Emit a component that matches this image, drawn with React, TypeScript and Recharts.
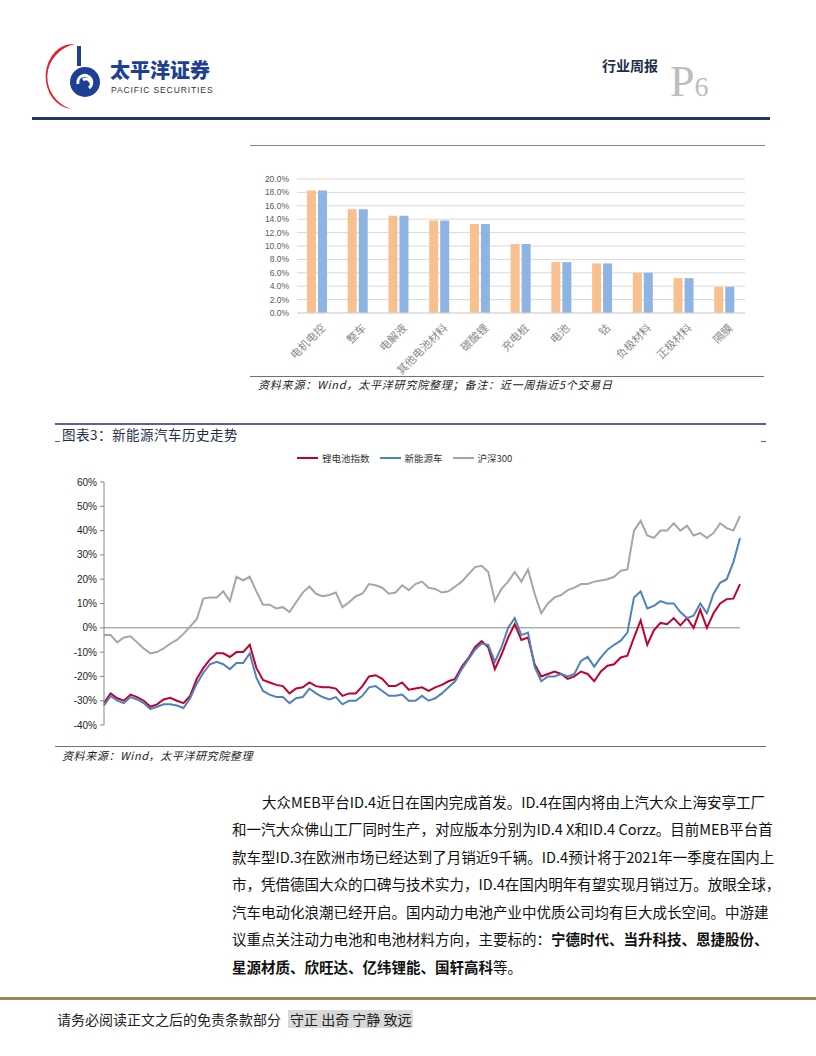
import React from "react";
import {
  BarChart,
  Bar,
  LineChart,
  Line,
  XAxis,
  YAxis,
  CartesianGrid,
  ReferenceLine,
} from "recharts";

// ---- bar chart data (weekly change by sub-sector) ----
const barCategories = [
  "电机电控",
  "整车",
  "电解液",
  "其他电池材料",
  "碳酸锂",
  "充电桩",
  "电池",
  "钴",
  "负极材料",
  "正极材料",
  "隔膜",
];
const barSeriesA = [18.3, 15.5, 14.5, 13.8, 13.3, 10.3, 7.6, 7.4, 6.0, 5.2, 3.9];
const barSeriesB = [18.3, 15.5, 14.5, 13.8, 13.3, 10.3, 7.6, 7.4, 6.0, 5.2, 3.9];
const barTicks = [0, 2, 4, 6, 8, 10, 12, 14, 16, 18, 20];

// ---- line chart data (weekly samples, 2018-11 .. 2020-11) ----
const monthLabels = [
  "2018-11",
  "2019-01",
  "2019-03",
  "2019-05",
  "2019-07",
  "2019-09",
  "2019-11",
  "2020-01",
  "2020-03",
  "2020-05",
  "2020-07",
  "2020-09",
  "2020-11",
];
const lithiumIndex = [
  -31, -27, -29, -30,
  -27.5, -28.5, -30, -32.5,
  -31.5, -29.5, -28.8, -30,
  -31, -28, -21, -16.5,
  -13, -10.5, -10.5, -12,
  -10, -10, -7, -16.5,
  -21.5, -22.5, -23.5, -24,
  -27, -25, -24.5, -22.5,
  -24, -24.5, -24.5, -25,
  -28, -27, -27, -24,
  -20, -19.5, -21, -24,
  -24, -22.5, -25.5, -25,
  -24.5, -26, -24.5, -23.5,
  -22, -21, -16, -12.5,
  -8, -5.5, -8, -17,
  -11, -4, 1.5, -5,
  -4, -15, -20, -19,
  -18, -19, -21, -20,
  -18, -19, -22, -18,
  -15.6, -15, -12.2, -11.5,
  -4, 3, -7, -1,
  2, 1.5, 4, 1,
  4, 0, 7.5, 0,
  6, 10, 11.8, 12,
  18,
];
const nevIndex = [
  -32, -28, -30, -31,
  -28.5, -29.5, -31, -33.5,
  -32.5, -31.5, -31.5, -32,
  -33, -29, -23, -18.5,
  -15, -14, -15, -17,
  -14.5, -14.5, -10.5, -20.5,
  -26, -27.5, -28.5, -28.5,
  -31, -29, -28.5, -25,
  -27, -28.5, -29.5, -28.5,
  -31.5, -30, -30, -28,
  -24.5, -24, -26, -28,
  -28, -27.5, -30, -30,
  -28, -30, -29, -27,
  -24.5, -22, -17, -13,
  -9, -6.5, -7, -14,
  -8, 0, 4, -3,
  -2, -16, -22, -20,
  -20, -19, -20, -19,
  -13.6, -12, -16, -12.2,
  -9, -7, -5.3, -2,
  12.5, 15, 8, 9,
  11, 10, 10, 6.5,
  4, 5, 10, 6,
  14, 18.5, 20, 27,
  37,
];
const hs300Index = [
  -3, -3, -6, -4,
  -3.5, -6, -8.5, -10.5,
  -10, -8.5, -6.5, -5,
  -2.5, 0.5, 3.5, 12,
  12.5, 12.5, 15, 11,
  21, 19.5, 21, 15,
  9.5, 9.5, 8, 8.5,
  6.5, 10.5, 14.5, 17,
  14, 13, 13.5, 14.5,
  8.5, 10.5, 13, 14,
  18, 17.5, 16.5, 14,
  14.5, 17.5, 15.5, 18,
  19, 16.5, 16, 14.5,
  15, 17, 19, 22,
  25, 25.5, 23, 11,
  16, 19, 23, 19,
  24, 14, 6, 10,
  12.5, 13.5, 15.5, 16.5,
  18, 18, 19, 19.5,
  20, 21, 23.5, 24,
  40, 44, 38, 37,
  40, 40, 43, 40,
  42, 38, 39, 37,
  39, 43, 41, 40,
  46,
];
const lineYTicks = [-40, -30, -20, -10, 0, 10, 20, 30, 40, 50, 60];

const barData = barCategories.map((name, i) => ({
  name,
  a: barSeriesA[i],
  b: barSeriesB[i],
}));

const lineData = lithiumIndex.map((v, i) => ({
  t: i,
  li: v,
  nev: nevIndex[i],
  hs: hs300Index[i],
}));
const weeksPerLabel = (lineData.length - 1) / (monthLabels.length - 1);
const lineXTicks = monthLabels.map((_, i) => i * weeksPerLabel);

const CJK = '"Noto Sans CJK SC", "Noto Sans", sans-serif';

const LINE_TOP = 12;
const LINE_PLOT_H = 243;
const ZERO_Y = LINE_TOP + (LINE_PLOT_H * 60) / 100;

function DateTick(props: any) {
  const { x, payload } = props;
  const idx = Math.round(payload.value / weeksPerLabel);
  return (
    <g>
      <line x1={x} x2={x} y1={ZERO_Y} y2={ZERO_Y + 3} stroke="#868686" />
      <text
        x={x}
        y={ZERO_Y + 12}
        textAnchor="middle"
        fontSize={8.5}
        fontFamily="Arial, Liberation Sans"
        fill="#222"
      >
        {monthLabels[idx]}
      </text>
    </g>
  );
}

function SlantTick(props: any) {
  const { x, y, payload } = props;
  return (
    <g transform={`translate(${x + 3},${y + 2})`}>
      <text
        x={0}
        y={0}
        dy={8}
        textAnchor="end"
        transform="rotate(-45)"
        fontSize={11}
        fontFamily={CJK}
        fill="#8a8a8a"
      >
        {payload.value}
      </text>
    </g>
  );
}

function Logo() {
  return (
    <div style={{ position: "absolute", left: 37, top: 42, width: 176, height: 68 }}>
      <svg width={70} height={68} style={{ position: "absolute", left: 0, top: 0 }}>
        <path d="M38,2 A36,34 0 0 0 34,67 A26,31 0 0 1 38,2 Z" fill="#e8202a" />
        <path d="M40,4 L44,4 L44,24 L40,24 Z" fill="#1f3f94" />
        <circle cx={48} cy={40} r={15} fill="#1f3f94" />
        <path
          d="M41,42 A7,7 0 1 1 52,46 A4,4 0 1 0 46,38"
          fill="none"
          stroke="#fff"
          strokeWidth={3}
        />
      </svg>
      <div
        style={{
          position: "absolute",
          left: 73,
          top: 17,
          fontFamily: CJK,
          fontWeight: 900,
          fontSize: 20,
          lineHeight: "22px",
          color: "#1f3f94",
          whiteSpace: "nowrap",
        }}
      >
        太平洋证券
      </div>
      <div
        style={{
          position: "absolute",
          left: 74,
          top: 43,
          fontFamily: "Arial, Liberation Sans",
          fontSize: 8.5,
          lineHeight: "10px",
          color: "#333",
          letterSpacing: 0.9,
          whiteSpace: "nowrap",
        }}
      >
        PACIFIC SECURITIES
      </div>
    </div>
  );
}

const bodyLines = [
  "大众MEB平台ID.4近日在国内完成首发。ID.4在国内将由上汽大众上海安亭工厂",
  "和一汽大众佛山工厂同时生产，对应版本分别为ID.4 X和ID.4 Corzz。目前MEB平台首",
  "款车型ID.3在欧洲市场已经达到了月销近9千辆。ID.4预计将于2021年一季度在国内上",
  "市，凭借德国大众的口碑与技术实力，ID.4在国内明年有望实现月销过万。放眼全球，",
  "汽车电动化浪潮已经开启。国内动力电池产业中优质公司均有巨大成长空间。中游建",
];
const bodyLineY = [792, 819, 847, 874, 902, 929, 957];

export default function App() {
  const abs = (l: number, t: number, extra: React.CSSProperties = {}): React.CSSProperties => ({
    position: "absolute",
    left: l,
    top: t,
    ...extra,
  });
  const bodyStyle: React.CSSProperties = {
    fontSize: 14.5,
    lineHeight: "20px",
    color: "#111",
    textAlign: "justify",
    textAlignLast: "justify",
    whiteSpace: "nowrap",
  };
  return (
    <div
      style={{
        position: "absolute",
        left: 0,
        top: 0,
        width: 816,
        height: 1056,
        background: "#fff",
        overflow: "hidden",
        fontFamily: CJK,
      }}
    >
      <Logo />
      <div
        style={abs(602, 56, {
          fontSize: 14,
          fontWeight: 700,
          color: "#1f2d4f",
          lineHeight: "18px",
          whiteSpace: "nowrap",
        })}
      >
        行业周报
      </div>
      <div
        style={abs(670, 62, {
          fontFamily: '"Liberation Serif", "DejaVu Serif", serif',
          color: "#bdbdbd",
          whiteSpace: "nowrap",
          lineHeight: "40px",
        })}
      >
        <span style={{ fontSize: 44 }}>P</span>
        <span style={{ fontSize: 28 }}>6</span>
      </div>
      <div style={abs(32, 117, { width: 738, height: 3, background: "#1f3864" })} />

      {/* bar chart */}
      <div style={abs(250, 145, { width: 515, height: 1, background: "#7f7fa8" })} />
      <div style={abs(250, 165)}>
        <BarChart
          width={515}
          height={220}
          data={barData}
          margin={{ top: 14, right: 20, left: 0, bottom: 0 }}
          barCategoryGap={10}
          barGap={2}
        >
          <CartesianGrid vertical={false} stroke="#d9d9d9" />
          <XAxis
            dataKey="name"
            interval={0}
            height={72}
            tick={<SlantTick />}
            tickLine={false}
            axisLine={{ stroke: "#d9d9d9" }}
          />
          <YAxis
            width={47}
            domain={[0, 20]}
            ticks={barTicks}
            interval={0}
            tickFormatter={(v: number) => v.toFixed(1) + "%"}
            axisLine={false}
            tickLine={false}
            tick={{ fontSize: 8.5, fill: "#595959", fontFamily: "Arial, Liberation Sans" }}
          />
          <Bar dataKey="a" fill="#f9c08f" isAnimationActive={false} />
          <Bar dataKey="b" fill="#8db4e2" isAnimationActive={false} />
        </BarChart>
      </div>
      <div style={abs(250, 376, { width: 514, height: 1, background: "#6b6b9b" })} />
      <div
        style={abs(258, 377, {
          fontSize: 11,
          fontStyle: "italic",
          lineHeight: "14px",
          letterSpacing: 0.8,
          color: "#222",
          whiteSpace: "nowrap",
        })}
      >
        资料来源：Wind，太平洋研究院整理；备注：近一周指近5个交易日
      </div>

      {/* line chart */}
      <div style={abs(55, 423, { width: 711, height: 2, background: "#5f5f9f" })} />
      <div
        style={abs(62, 426, {
          fontSize: 13.5,
          lineHeight: "17px",
          color: "#1f2d4f",
          letterSpacing: 0.5,
          whiteSpace: "nowrap",
        })}
      >
        图表3：新能源汽车历史走势
      </div>
      <div style={abs(55, 441, { width: 5, height: 1, background: "#5f5f9f" })} />
      <div style={abs(761, 441, { width: 5, height: 1, background: "#5f5f9f" })} />

      <div
        style={abs(297, 452, {
          display: "flex",
          alignItems: "center",
          fontSize: 9.5,
          lineHeight: "12px",
          color: "#333",
          whiteSpace: "nowrap",
        })}
      >
        <span style={{ display: "inline-block", width: 21, height: 2.5, background: "#c0002f", marginRight: 4 }} />
        <span style={{ marginRight: 10 }}>锂电池指数</span>
        <span style={{ display: "inline-block", width: 21, height: 2.5, background: "#4f81bd", marginRight: 4 }} />
        <span style={{ marginRight: 10 }}>新能源车</span>
        <span style={{ display: "inline-block", width: 21, height: 2.5, background: "#a6a6a6", marginRight: 4 }} />
        <span>沪深300</span>
      </div>

      <div style={abs(50, 470)}>
        <LineChart
          width={700}
          height={270}
          data={lineData}
          margin={{ top: LINE_TOP, right: 10, left: 0, bottom: 270 - LINE_TOP - LINE_PLOT_H }}
        >
          <XAxis
            type="number"
            dataKey="t"
            domain={[0, lineData.length - 1]}
            ticks={lineXTicks}
            interval={0}
            height={0}
            axisLine={false}
            tickLine={false}
            tick={<DateTick />}
          />
          <YAxis
            width={54}
            domain={[-40, 60]}
            ticks={lineYTicks}
            interval={0}
            tickFormatter={(v: number) => v + "%"}
            axisLine={{ stroke: "#868686" }}
            tickLine={{ stroke: "#868686" }}
            tickSize={4}
            tickMargin={3}
            tick={{ fontSize: 10, fill: "#222", fontFamily: "Arial, Liberation Sans" }}
          />
          <ReferenceLine y={0} stroke="#868686" />
          <Line
            dataKey="li"
            stroke="#c0002f"
            strokeWidth={2}
            dot={false}
            isAnimationActive={false}
          />
          <Line
            dataKey="nev"
            stroke="#4f81bd"
            strokeWidth={2}
            dot={false}
            isAnimationActive={false}
          />
          <Line
            dataKey="hs"
            stroke="#a6a6a6"
            strokeWidth={2}
            dot={false}
            isAnimationActive={false}
          />
        </LineChart>
      </div>
      <div style={abs(55, 746, { width: 711, height: 1, background: "#6b6b9b" })} />
      <div
        style={abs(62, 748, {
          fontSize: 11,
          fontStyle: "italic",
          lineHeight: "14px",
          letterSpacing: 0.6,
          color: "#222",
          whiteSpace: "nowrap",
        })}
      >
        资料来源：Wind，太平洋研究院整理
      </div>

      {/* body text */}
      {bodyLines.map((line, i) => (
        <div
          key={i}
          style={abs(i === 0 ? 262 : 232, bodyLineY[i], {
            ...bodyStyle,
            width: i === 0 ? 498 : 528,
          })}
        >
          {line}
        </div>
      ))}
      <div style={abs(232, bodyLineY[5], { ...bodyStyle, width: 528 })}>
        议重点关注动力电池和电池材料方向，主要标的：<b>宁德时代、当升科技、恩捷股份、</b>
      </div>
      <div
        style={abs(232, bodyLineY[6], {
          fontSize: 14.5,
          lineHeight: "20px",
          color: "#111",
          whiteSpace: "nowrap",
        })}
      >
        <b>星源材质、欣旺达、亿纬锂能、国轩高科</b>等。
      </div>

      {/* footer */}
      <div style={abs(0, 997, { width: 816, height: 3, background: "#948a54" })} />
      <div
        style={abs(57, 1010, {
          fontSize: 14,
          lineHeight: "18px",
          color: "#222",
          whiteSpace: "nowrap",
        })}
      >
        请务必阅读正文之后的免责条款部分
      </div>
      <div
        style={abs(288, 1010, {
          fontSize: 14,
          lineHeight: "18px",
          color: "#222",
          whiteSpace: "pre",
          background: "#d9d9d9",
          padding: "0 2px",
        })}
      >
        守正 出奇 宁静 致远
      </div>
    </div>
  );
}
